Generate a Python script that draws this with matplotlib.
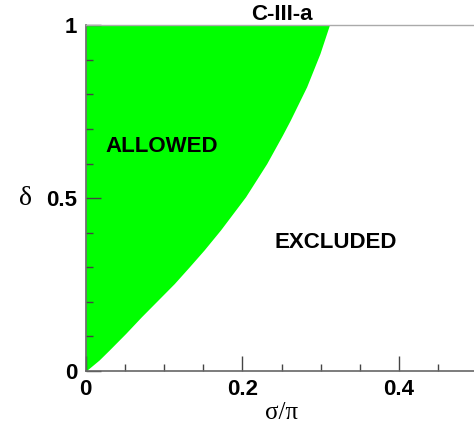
import matplotlib
matplotlib.use("Agg")
import matplotlib.pyplot as plt
from matplotlib.ticker import MultipleLocator

# boundary of allowed region
delta = [0.0, 0.032, 0.061, 0.109, 0.157, 0.205, 0.253, 0.301, 0.350, 0.408,
         0.504, 0.600, 0.682, 0.725, 0.822, 0.918, 1.0]
sigma = [0.0, 0.017, 0.030, 0.051, 0.071, 0.092, 0.113, 0.132, 0.151, 0.172,
         0.204, 0.231, 0.251, 0.261, 0.282, 0.299, 0.311]

x_ticks = [0, 0.2, 0.4]
x_tick_labels = ["0", "0.2", "0.4"]
y_ticks = [0, 0.5, 1]
y_tick_labels = ["0", "0.5", "1"]

plt.rcParams['font.family'] = ['Liberation Sans', 'DejaVu Sans']

fig = plt.figure(figsize=(4.74, 4.28), dpi=100)
ax = fig.add_axes([0.181, 0.133, 0.826, 0.808])

ax.fill_betweenx(delta, 0, sigma, color="#00ff00", linewidth=0)

ax.set_xlim(0, 0.5)
ax.set_ylim(0, 1)

ax.set_xticks(x_ticks)
ax.set_xticklabels(x_tick_labels, fontweight="bold", fontsize=16)
ax.set_yticks(y_ticks)
ax.set_yticklabels(y_tick_labels, fontweight="bold", fontsize=16)
ax.xaxis.set_minor_locator(MultipleLocator(0.05))
ax.yaxis.set_minor_locator(MultipleLocator(0.1))
ax.tick_params(which="major", direction="in", length=11, width=1, color="#444444", pad=6)
ax.tick_params(which="minor", direction="in", length=5, width=1, color="#444444")
ax.tick_params(top=False, right=False)

for side in ["left", "bottom"]:
    ax.spines[side].set_color("#666666")
    ax.spines[side].set_linewidth(1.2)
ax.spines["top"].set_color("#aaaaaa")
ax.spines["top"].set_linewidth(1)
ax.spines["right"].set_visible(False)

ax.set_title("C-III-a", fontweight="bold", fontsize=16, pad=4)
ax.set_xlabel("σ/π", family=["Liberation Serif", "DejaVu Serif"], fontsize=18, labelpad=1)
ax.set_ylabel("δ", family=["Liberation Serif", "DejaVu Serif"], fontsize=20, rotation=0,
              labelpad=15, va="center")

ax.text(0.025, 0.65, "ALLOWED", fontweight="bold", fontsize=16, va="center", ha="left")
ax.text(0.2416, 0.373, "EXCLUDED", fontweight="bold", fontsize=16, va="center", ha="left")

fig.savefig("out.png", dpi=100)
